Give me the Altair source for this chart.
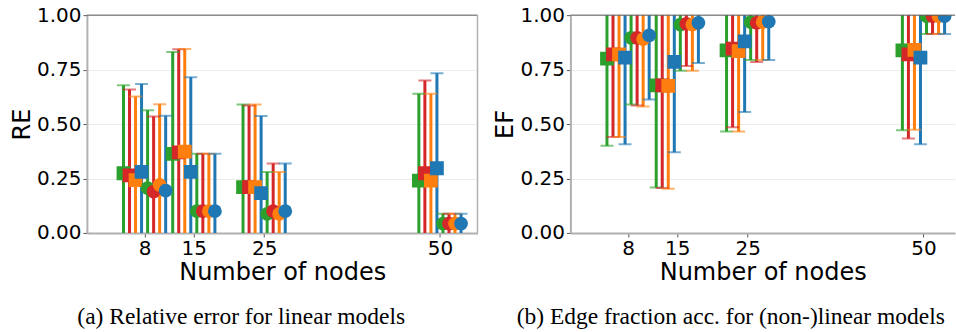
import altair as alt
import pandas as pd

nodes = [8, 15, 25, 50]
series_names = ["sq_green", "sq_red", "sq_orange", "sq_blue",
                "ci_green", "ci_red", "ci_orange", "ci_blue"]
series_colors = ["#2ca02c", "#d62728", "#ff7f0e", "#1f77b4",
                 "#2ca02c", "#d62728", "#ff7f0e", "#1f77b4"]
series_markers = ["square"] * 4 + ["circle"] * 4

# Panel (a): Relative error (mean, upper, lower) per series over nodes
re_mean = [
    [0.274, 0.363, 0.210, 0.240],
    [0.264, 0.370, 0.210, 0.274],
    [0.242, 0.373, 0.210, 0.240],
    [0.280, 0.280, 0.183, 0.297],
    [0.206, 0.100, 0.087, 0.043],
    [0.190, 0.100, 0.100, 0.043],
    [0.221, 0.100, 0.087, 0.043],
    [0.194, 0.100, 0.100, 0.043],
]
re_hi = [
    [0.678, 0.831, 0.590, 0.639],
    [0.659, 0.843, 0.585, 0.700],
    [0.627, 0.845, 0.590, 0.639],
    [0.684, 0.715, 0.537, 0.733],
    [0.563, 0.364, 0.280, 0.088],
    [0.535, 0.364, 0.319, 0.088],
    [0.591, 0.364, 0.280, 0.088],
    [0.538, 0.364, 0.319, 0.088],
]
re_lo = [
    [-0.130, -0.105, -0.170, -0.159],
    [-0.131, -0.103, -0.165, -0.152],
    [-0.143, -0.099, -0.170, -0.159],
    [-0.124, -0.155, -0.171, -0.139],
    [-0.150, -0.164, -0.106, -0.010],
    [-0.155, -0.164, -0.119, -0.010],
    [-0.149, -0.164, -0.106, -0.010],
    [-0.150, -0.164, -0.119, -0.010],
]

# Panel (b): Edge fraction accuracy
ef_mean = [
    [0.800, 0.678, 0.838, 0.838],
    [0.820, 0.678, 0.846, 0.820],
    [0.820, 0.675, 0.835, 0.841],
    [0.805, 0.785, 0.880, 0.805],
    [0.896, 0.957, 0.968, 0.995],
    [0.896, 0.960, 0.965, 0.995],
    [0.890, 0.957, 0.968, 0.995],
    [0.907, 0.965, 0.970, 0.995],
]
ef_lo = [
    [0.400, 0.209, 0.466, 0.471],
    [0.440, 0.206, 0.485, 0.434],
    [0.440, 0.203, 0.466, 0.474],
    [0.407, 0.370, 0.555, 0.407],
    [0.590, 0.745, 0.794, 0.913],
    [0.585, 0.767, 0.785, 0.913],
    [0.580, 0.745, 0.794, 0.913],
    [0.613, 0.780, 0.794, 0.913],
]
ef_hi = [
    [1.200, 1.147, 1.210, 1.205],
    [1.200, 1.150, 1.207, 1.206],
    [1.200, 1.147, 1.204, 1.208],
    [1.203, 1.200, 1.205, 1.203],
    [1.202, 1.169, 1.142, 1.077],
    [1.207, 1.153, 1.145, 1.077],
    [1.200, 1.169, 1.142, 1.077],
    [1.201, 1.150, 1.146, 1.077],
]

y_ticks = [0, 0.25, 0.5, 0.75, 1.0]


def build_df(mean, lo, hi):
    rows = []
    for s, name in enumerate(series_names):
        for j, n in enumerate(nodes):
            rows.append(dict(node=n, idx=s, series=name,
                             marker=series_markers[s],
                             mean=mean[s][j], lo=lo[s][j], hi=hi[s][j]))
    return pd.DataFrame(rows)


def make_panel(df, ytitle, xdomain, width, caption, cap_dx, right_spine):
    xscale = alt.Scale(domain=xdomain, nice=False, zero=False)
    yscale = alt.Scale(domain=[0, 1], nice=False, zero=False)
    xaxis = alt.Axis(values=nodes, title="Number of nodes", grid=False)
    yaxis = alt.Axis(values=y_ticks, format=".2f", title=ytitle, grid=True,
                     gridColor="#ebebeb", gridWidth=1)
    color = alt.Color("series:N", scale=alt.Scale(domain=series_names, range=series_colors),
                      legend=None)
    shape = alt.Shape("marker:N", scale=alt.Scale(domain=["square", "circle"],
                                                  range=["square", "circle"]), legend=None)
    base = alt.Chart(df).transform_calculate(
        xpos="datum.node + (datum.idx - 3.5) * 6 / 7"
    )
    X = alt.X("xpos:Q", scale=xscale, axis=xaxis)

    bars = base.mark_rule(strokeWidth=3, clip=True).encode(
        x=X, y=alt.Y("lo:Q", scale=yscale, axis=yaxis), y2="hi:Q", color=color)
    cap_hi = base.mark_tick(orient="horizontal", size=13, thickness=2, opacity=0.6,
                            clip=True).encode(
        x=X, y=alt.Y("hi:Q", scale=yscale, axis=yaxis), color=color)
    cap_lo = base.mark_tick(orient="horizontal", size=13, thickness=2, opacity=0.6,
                            clip=True).encode(
        x=X, y=alt.Y("lo:Q", scale=yscale, axis=yaxis), color=color)
    pts = base.mark_point(filled=True, size=190, opacity=1, clip=True).encode(
        x=X, y=alt.Y("mean:Q", scale=yscale, axis=yaxis), color=color, shape=shape)

    top = alt.Chart(pd.DataFrame({"top": [1.0]})).mark_rule(
        color="#555555", strokeWidth=1).encode(
        y=alt.Y("top:Q", scale=yscale, axis=yaxis))
    layers = [bars, cap_hi, cap_lo, pts, top]
    if right_spine:
        layers.append(alt.Chart(pd.DataFrame({"top": [1.0]})).mark_rule(
            color="#b0b0b0", strokeWidth=1.5).encode(x=alt.value(width)))

    return alt.layer(*layers).properties(
        width=width, height=218,
        title=alt.TitleParams(text=caption, orient="bottom", font="Liberation Serif",
                              fontSize=23.5, fontWeight="normal", color="black",
                              dx=cap_dx, offset=20),
    )


left = make_panel(build_df(re_mean, re_lo, re_hi), "RE", [-0.2, 55.34], 391,
                  "(a) Relative error for linear models", -41, True)
right = make_panel(build_df(ef_mean, ef_lo, ef_hi), "EF", [-0.2, 54.48], 385,
                   "(b) Edge fraction acc. for (non-)linear models", -32, False)

chart = alt.hconcat(left, right, spacing=15).properties(
    padding={"left": 10, "top": 5, "right": 0, "bottom": 0}
).configure_view(stroke=None).configure_axis(
    labelFont="DejaVu Sans", titleFont="DejaVu Sans",
    labelFontSize=20, titleFontSize=24, titleFontWeight="normal",
    labelColor="black", titleColor="black",
    tickColor="#555555", tickSize=4, tickWidth=1,
    domainColor="#b0b0b0", domainWidth=2,
    labelPadding=2, titlePadding=2,
)

chart.save("out.html", embed_options={"renderer": "svg", "actions": False})
